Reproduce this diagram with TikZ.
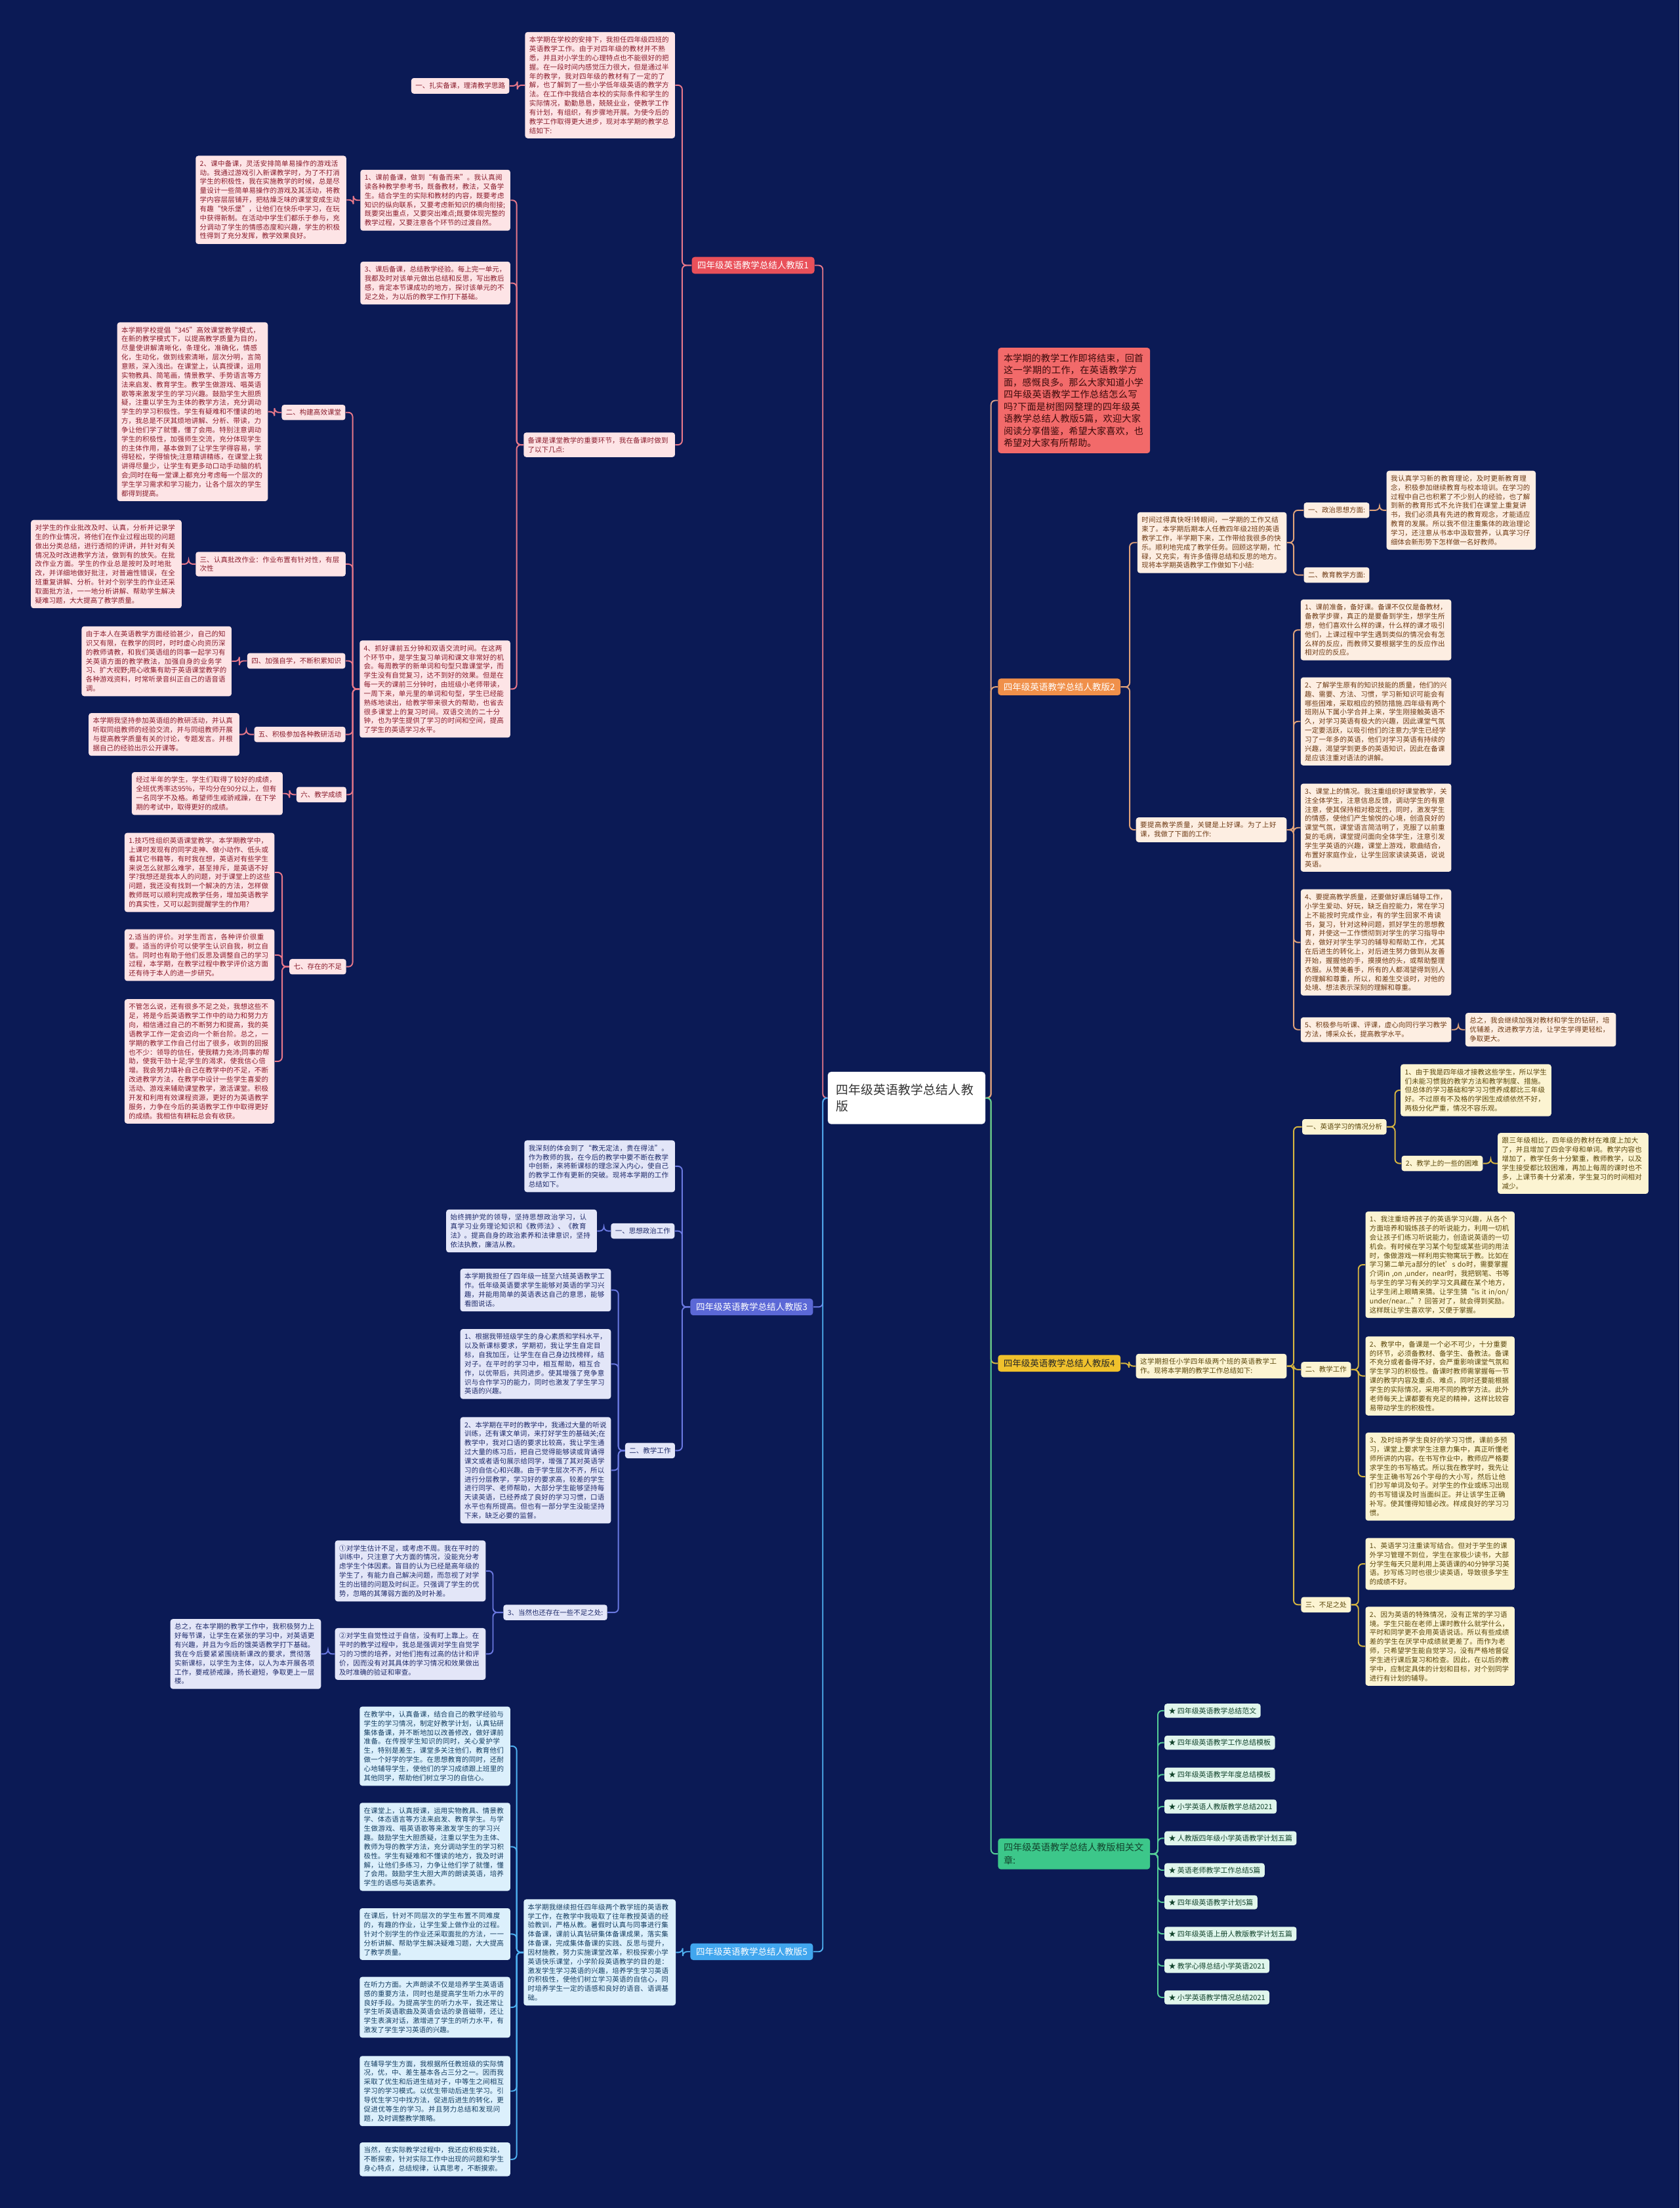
\documentclass[tikz,border=0pt]{standalone}
\usepackage{fontspec}
\setmainfont{Noto Sans CJK SC}
\XeTeXlinebreaklocale "zh"
\XeTeXlinebreakskip=0pt plus 0.5pt minus 0.12pt
\definecolor{bg}{HTML}{0B1A55}
\definecolor{aline}{HTML}{E8788A}\definecolor{afill}{HTML}{FDE4E6}\definecolor{atext}{HTML}{8A1C2C}\definecolor{abr}{HTML}{E9505A}
\definecolor{rfill}{HTML}{F26A6A}\definecolor{rtext}{HTML}{3A0A0A}\definecolor{rline}{HTML}{D9A08A}
\definecolor{bline}{HTML}{E0A27A}\definecolor{bfill}{HTML}{FDEEE2}\definecolor{btext}{HTML}{6E3A14}\definecolor{bbr}{HTML}{F0904A}
\definecolor{cline}{HTML}{6A78E0}\definecolor{cfill}{HTML}{E3E6F8}\definecolor{ctext}{HTML}{1E2A6A}\definecolor{cbr}{HTML}{5B68D6}
\definecolor{dline}{HTML}{D6B540}\definecolor{dfill}{HTML}{FCF4D2}\definecolor{dtext}{HTML}{5A460A}\definecolor{dbr}{HTML}{F0C12C}
\definecolor{eline}{HTML}{4FB2F2}\definecolor{efill}{HTML}{DCF0FC}\definecolor{etext}{HTML}{153E62}\definecolor{ebr}{HTML}{41A6EE}
\definecolor{fline}{HTML}{55CF98}\definecolor{ffill}{HTML}{E0F6EC}\definecolor{ftext}{HTML}{12432C}\definecolor{fbr}{HTML}{3CC78A}
\newcommand\fs{\fontsize{4.9pt}{6.45pt}\selectfont}
\newcommand\lc[4]{\draw[#1] (#2.west) -| (#4,0 |- #3.east) -- (#3.east);}
\newcommand\rc[4]{\draw[#1] (#2.east) -| (#4,0 |- #3.west) -- (#3.west);}
\tikzset{
  bx/.style={rounded corners=1.8pt, inner xsep=3pt, inner ysep=3.2pt, align=left, font=\fs},
  pa/.style={bx, fill=afill, text=atext},
  pb/.style={bx, fill=bfill, text=btext},
  pc/.style={bx, fill=cfill, text=ctext},
  pd/.style={bx, fill=dfill, text=dtext},
  pe/.style={bx, fill=efill, text=etext},
  pf/.style={bx, fill=ffill, text=ftext, inner ysep=2.6pt, font=\fontsize{5.1pt}{6pt}\selectfont},
  br/.style={rounded corners=2pt, inner xsep=4pt, inner ysep=3pt, font=\fontsize{6.3pt}{7.5pt}\selectfont},
  ln/.style={line width=0.9pt, rounded corners=3pt},
  la/.style={ln, aline}, lb/.style={ln, bline}, lcc/.style={ln, cline},
  ld/.style={ln, dline}, le/.style={ln, eline}, lf/.style={ln, fline}, lr/.style={ln, rline},
}
\begin{document}
\begin{tikzpicture}[x=1pt,y=-1pt]
\useasboundingbox (0,0) rectangle (1193,1568.6);
\fill[bg] (0,0) rectangle (1193,1568.6);

% centre
\node[rounded corners=2.5pt, fill=white, text=black!80, inner xsep=6pt, inner ysep=8.5pt, align=left, text width=100pt, font=\fontsize{8.8pt}{12pt}\selectfont] (c0) at (644,780) {四年级英语教学总结人教版};

% ---------------- branch 1 ----------------
\node[br, fill=abr, text=white] (b1) at (535,188.5) {四年级英语教学总结人教版1};
\node[pa, text width=100.5pt] (t1) at (426.25,60.5) {本学期在学校的安排下，我担任四年级四班的英语教学工作。由于对四年级的教材并不熟悉，并且对小学生的心理特点也不能很好的把握。在一段时间内感觉压力很大，但是通过半年的教学，我对四年级的教材有了一定的了解，也了解到了一些小学低年级英语的教学方法。在工作中我结合本校的实际条件和学生的实际情况，勤勤恳恳，兢兢业业，使教学工作有计划，有组织，有步骤地开展。为使今后的教学工作取得更大进步，现对本学期的教学总结如下:};
\node[pa] (t1a) at (327,61) {一、扎实备课，理清教学思路};
\node[pa, text width=101.5pt] (t1b) at (425.75,316) {备课是课堂教学的重要环节，我在备课时做到了以下几点:};
\node[pa, text width=100.5pt] (t1b1) at (309.25,142.25) {1、课前备课，做到“有备而来”。我认真阅读各种教学参考书，既备教材，教法，又备学生。结合学生的实际和教材的内容，既要考虑知识的纵向联系，又要考虑新知识的横向衔接;既要突出重点，又要突出难点;既要体现完整的教学过程，又要注意各个环节的过渡自然。};
\node[pa, text width=101pt] (t1b1a) at (192.5,142) {2、课中备课，灵活安排简单易操作的游戏活动。我通过游戏引入新课教学时，为了不打消学生的积极性，我在实施教学的时候，总是尽量设计一些简单易操作的游戏及其活动，将教学内容层层铺开，把枯燥乏味的课堂变成生动有趣“快乐堡”，让他们在快乐中学习，在玩中获得新制。在活动中学生们都乐于参与，充分调动了学生的情感态度和兴趣，学生的积极性得到了充分发挥，教学效果良好。};
\node[pa, text width=100.5pt] (t1b2) at (309.25,201.1) {3、课后备课，总结教学经验。每上完一单元，我都及时对该单元做出总结和反思，写出教后感，肯定本节课成功的地方，探讨该单元的不足之处，为以后的教学工作打下基础。};
\node[pa, text width=101pt] (t1b3) at (309,489.5) {4、抓好课前五分钟和双语交流时间。在这两个环节中，是学生复习单词和课文非常好的机会。每周教学的新单词和句型只靠课堂学，而学生没有自觉复习，达不到好的效果。但是在每一天的课前三分钟时，由班级小老师带读，一周下来，单元里的单词和句型，学生已经能熟练地读出，给教学带来很大的帮助，也省去很多课堂上的复习时间。双语交流的二十分钟，也为学生提供了学习的时间和空间，提高了学生的英语学习水平。};
\node[pa] (s2) at (222.75,293) {二、构建高效课堂};
\node[pa, text width=101pt] (s2c) at (136.75,292.5) {本学期学校提倡“345”高效课堂教学模式，在新的教学模式下，以提高教学质量为目的，尽量使讲解清晰化，条理化，准确化，情感化，生动化，做到线索清晰，层次分明，言简意赅，深入浅出。在课堂上，认真授课，运用实物教具、简笔画，情景教学、手势语言等方法来启发、教育学生。教学生做游戏、唱英语歌等来激发学生的学习兴趣。鼓励学生大胆质疑，注重以学生为主体的教学方法，充分调动学生的学习积极性。学生有疑难和不懂读的地方，我总是不厌其烦地讲解、分析、带读，力争让他们学了就懂，懂了会用。特别注意调动学生的积极性，加强师生交流，充分体现学生的主体作用，基本做到了让学生学得容易，学得轻松，学得愉快;注意精讲精练，在课堂上我讲得尽量少，让学生有更多动口动手动脑的机会;同时在每一堂课上都充分考虑每一个层次的学生学习需求和学习能力，让各个层次的学生都得到提高。};
\node[pa, text width=100.5pt] (s3) at (192.25,400.75) {三、认真批改作业：作业布置有针对性，有层次性};
\node[pa, text width=101pt] (s3c) at (75.5,400.75) {对学生的作业批改及时、认真，分析并记录学生的作业情况，将他们在作业过程出现的问题做出分类总结，进行透彻的评讲，并针对有关情况及时改进教学方法，做到有的放矢。在批改作业方面。学生的作业总是按时及时地批改，并详细地做好批注，对普遍性错误，在全班重复讲解、分析。针对个别学生的作业还采取面批方法，一一地分析讲解、帮助学生解决疑难习题，大大提高了教学质量。};
\node[pa] (s4) at (210.5,469.5) {四、加强自学，不断积累知识};
\node[pa, text width=100.5pt] (s4c) at (111.25,469.75) {由于本人在英语教学方面经验甚少，自己的知识又有限，在教学的同时，时时虚心向资历深的教师请教，和我们英语组的同事一起学习有关英语方面的教学教法，加强自身的业务学习、扩大视野;用心收集有助于英语课堂教学的各种游戏资料，时常听录音纠正自己的语音语调。};
\node[pa] (s5) at (213,521.75) {五、积极参加各种教研活动};
\node[pa, text width=101pt] (s5c) at (116.5,521.75) {本学期我坚持参加英语组的教研活动，并认真听取同组教师的经验交流，并与同组教师开展与提高教学质量有关的讨论，专题发言。并根据自己的经验出示公开课等。};
\node[pa] (s6) at (228.3,564.5) {六、教学成绩};
\node[pa, text width=101.2pt] (s6c) at (147.2,563.75) {经过半年的学生，学生们取得了较好的成绩，全班优秀率达95\%，平均分在90分以上，但有一名同学不及格。希望师生戒骄戒躁，在下学期的考试中，取得更好的成绩。};
\node[pa] (s7) at (225.75,686.75) {七、存在的不足};
\node[pa, text width=100.5pt] (s7a) at (141.75,619.8) {1.技巧性组织英语课堂教学。本学期教学中，上课时发现有的同学走神、做小动作、低头或看其它书籍等，有时我在想，英语对有些学生来说怎么就那么难学，甚至排斥，是英语不好学?我想还是我本人的问题，对于课堂上的这些问题，我还没有找到一个解决的方法，怎样做教师既可以顺利完成教学任务，增加英语教学的真实性，又可以起到提醒学生的作用?};
\node[pa, text width=100.5pt] (s7b) at (141.75,678.5) {2.适当的评价。对学生而言，各种评价很重要。适当的评价可以使学生认识自我，树立自信。同时也有助于他们反思及调整自己的学习过程，本学期，在教学过程中教学评价这方面还有待于本人的进一步研究。};
\node[pa, text width=100.5pt] (s7c) at (141.75,754) {不管怎么说，还有很多不足之处，我想这些不足，将是今后英语教学工作中的动力和努力方向，相信通过自己的不断努力和提高，我的英语教学工作一定会迈向一个新台阶。总之，一学期的教学工作自己付出了很多，收到的回报也不少：领导的信任，使我精力充沛;同事的帮助，使我干劲十足;学生的渴求，使我信心倍增。我会努力填补自己在教学中的不足，不断改进教学方法，在教学中设计一些学生喜爱的活动、游戏来辅助课堂教学，激活课堂。积极开发和利用有效课程资源，更好的为英语教学服务，力争在今后的英语教学工作中取得更好的成绩。我相信有耕耘总会有收获。};

\lc{la}{c0}{b1}{584.5}
\lc{la}{b1}{t1}{484.6}
\lc{la}{b1}{t1b}{484.6}
\lc{la}{t1}{t1a}{367.5}
\lc{la}{t1b}{t1b1}{367}
\lc{la}{t1b}{t1b2}{367}
\lc{la}{t1b}{t1b3}{367}
\lc{la}{t1b1}{t1b1a}{251}
\foreach \n in {s2,s3,s4,s5,s6,s7} {\lc{la}{t1b3}{\n}{250.5}}
\lc{la}{s2}{s2c}{195}
\lc{la}{s3}{s3c}{134}
\lc{la}{s4}{s4c}{170}
\lc{la}{s5}{s5c}{175}
\lc{la}{s6}{s6c}{205.7}
\foreach \n in {s7a,s7b,s7c} {\lc{la}{s7}{\n}{200.4}}

% ---------------- intro + branch 2 ----------------
\node[rounded corners=2pt, fill=rfill, text=rtext, inner xsep=4pt, inner ysep=4.3pt, align=left, text width=100pt, font=\fontsize{6.6pt}{8.6pt}\selectfont] (red) at (763,284.5) {本学期的教学工作即将结束，回首这一学期的工作，在英语教学方面，感慨良多。那么大家知道小学四年级英语教学工作总结怎么写吗?下面是树图网整理的四年级英语教学总结人教版5篇，欢迎大家阅读分享借鉴，希望大家喜欢，也希望对大家有所帮助。};
\node[br, fill=bbr, text=white] (b2) at (752.5,488) {四年级英语教学总结人教版2};
\node[pb, text width=100pt] (tj) at (861,385.5) {时间过得真快呀!转眼间，一学期的工作又结束了。本学期后期本人任教四年级2班的英语教学工作，半学期下来，工作带给我很多的快乐。顺利地完成了教学任务。回顾这学期，忙碌，又充实，有许多值得总结和反思的地方。现将本学期英语教学工作做如下小结:};
\node[pb] (zz) at (949.5,362.5) {一、政治思想方面:};
\node[pb, text width=100pt] (zzc) at (1038,362.5) {我认真学习新的教育理论，及时更新教育理念，积极参加继续教育与校本培训。在学习的过程中自己也积累了不少别人的经验，也了解到新的教育形式不允许我们在课堂上重复讲书，我们必须具有先进的教育观念，才能适应教育的发展。所以我不但注重集体的政治理论学习，还注意从书本中汲取营养，认真学习仔细体会新形势下怎样做一名好教师。};
\node[pb] (jy) at (949.5,408.5) {二、教育教学方面:};
\node[pb, text width=101pt] (yt) at (860.5,589.5) {要提高教学质量，关键是上好课。为了上好课，我做了下面的工作:};
\node[pb, text width=101pt] (o1) at (977.5,447.5) {1、课前准备，备好课。备课不仅仅是备教材，备教学步骤，真正的是要备到学生，想学生所想，他们喜欢什么样的课，什么样的课才吸引他们，上课过程中学生遇到类似的情况会有怎么样的反应，而教师又要根据学生的反应作出相对应的反应。};
\node[pb, text width=101pt] (o2) at (977.5,512.5) {2、了解学生原有的知识技能的质量，他们的兴趣、需要、方法、习惯，学习新知识可能会有哪些困难，采取相应的预防措施.四年级有两个班刚从下属小学合并上来，学生刚接触英语不久，对学习英语有极大的兴趣，因此课堂气氛一定要活跃，以吸引他们的注意力;学生已经学习了一年多的英语，他们对学习英语有持续的兴趣，渴望学到更多的英语知识，因此在备课是应该注重对语法的讲解。};
\node[pb, text width=101pt] (o3) at (977.5,588) {3、课堂上的情况。我注重组织好课堂教学，关注全体学生，注意信息反馈，调动学生的有意注意，使其保持相对稳定性，同时，激发学生的情感，使他们产生愉悦的心境，创造良好的课堂气氛，课堂语言简洁明了，克服了以前重复的毛病，课堂提问面向全体学生，注意引发学生学英语的兴趣，课堂上游戏，歌曲结合，布置好家庭作业，让学生回家读读英语，说说英语。};
\node[pb, text width=101pt] (o4) at (977.5,669.5) {4、要提高教学质量，还要做好课后辅导工作，小学生爱动、好玩，缺乏自控能力，常在学习上不能按时完成作业，有的学生回家不肯读书，复习，针对这种问题，抓好学生的思想教育，并使这一工作惯彻到对学生的学习指导中去，做好对学生学习的辅导和帮助工作，尤其在后进生的转化上，对后进生努力做到从友善开始，握握他的手，摸摸他的头，或帮助整理衣服。从赞美着手，所有的人都渴望得到别人的理解和尊重，所以，和差生交谈时，对他的处境、想法表示深刻的理解和尊重。};
\node[pb, text width=101pt] (o5) at (977.5,731.5) {5、积极参与听课、评课，虚心向同行学习教学方法，博采众长，提高教学水平。};
\node[pb, text width=101pt] (oz) at (1094.5,731.5) {总之，我会继续加强对教材和学生的钻研，培优辅差，改进教学方法，让学生学得更轻松，争取更大。};

\rc{lr}{c0}{red}{704}
\rc{lb}{c0}{b2}{704}
\rc{lb}{b2}{tj}{802.5}
\rc{lb}{b2}{yt}{802.5}
\rc{lb}{tj}{zz}{919}
\rc{lb}{tj}{jy}{919}
\rc{lb}{zz}{zzc}{980}
\foreach \n in {o1,o2,o3,o4,o5} {\rc{lb}{yt}{\n}{919}}
\rc{lb}{o5}{oz}{1036}

% ---------------- branch 3 ----------------
\node[br, fill=cbr, text=white] (b3) at (534,928.5) {四年级英语教学总结人教版3};
\node[pc, text width=101pt] (sk) at (426,828.5) {我深刻的体会到了“教无定法，贵在得法”。作为教师的我，在今后的教学中要不断在教学中创新，来将新课标的理念深入内心，使自己的教学工作有更新的突破。现将本学期的工作总结如下。};
\node[pc] (sx) at (456.6,874.5) {一、思想政治工作};
\node[pc, text width=101pt] (sxc) at (370.5,874.5) {始终拥护党的领导，坚持思想政治学习，认真学习业务理论知识和《教师法》、《教育法》。提高自身的政治素养和法律意识，坚持依法执教，廉洁从教。};
\node[pc] (jx) at (461.8,1030.5) {二、教学工作};
\node[pc, text width=101pt] (j0) at (380.5,916.5) {本学期我担任了四年级一班至六班英语教学工作。低年级英语要求学生能够对英语的学习兴趣，并能用简单的英语表达自己的意思，能够看图说话。};
\node[pc, text width=101pt] (j1) at (380.5,969) {1、根据我带班级学生的身心素质和学科水平，以及新课标要求，学期初，我让学生自定目标，自我加压，让学生在自己身边找榜样，结对子。在平时的学习中，相互帮助，相互合作，以优带后，共同进步。使其增强了竞争意识与合作学习的能力，同时也激发了学生学习英语的兴趣。};
\node[pc, text width=101pt] (j2) at (380.5,1044.5) {2、本学期在平时的教学中，我通过大量的听说训练，还有课文单词，来打好学生的基础关;在教学中，我对口语的要求比较高，我让学生通过大量的练习后，把自己觉得能够读或背诵得课文或者语句展示给同学，增强了其对英语学习的自信心和兴趣。由于学生层次不齐，所以进行分层教学，学习好的要求高，较差的学生进行同学、老师帮助，大部分学生能够坚持每天读英语，已经养成了良好的学习习惯，口语水平也有所提高。但也有一部分学生没能坚持下来，缺乏必要的监督。};
\node[pc] (j3) at (394.5,1145.5) {3、当然也还存在一些不足之处:};
\node[pc, text width=101pt] (ja) at (291.5,1116) {①对学生估计不足，或考虑不周。我在平时的训练中，只注意了大方面的情况，没能充分考虑学生个体因素。盲目的认为已经是高年级的学生了，有能力自己解决问题，而忽视了对学生的出错的问题及时纠正。只强调了学生的优势，忽略的其薄弱方面的及时补差。};
\node[pc, text width=101pt] (jb) at (291.5,1175) {②对学生自觉性过于自信，没有盯上靠上。在平时的教学过程中，我总是强调对学生自觉学习的习惯的培养，对他们抱有过高的估计和评价，因而没有对其具体的学习情况和效果做出及时准确的验证和审查。};
\node[pc, text width=101pt] (jz) at (174.5,1175) {总之，在本学期的教学工作中，我积极努力上好每节课，让学生在紧张的学习中，对英语更有兴趣，并且为今后的饿英语教学打下基础。我在今后要紧紧围绕新课改的要求，贯彻落实新课标，以学生为主体，以人为本开展各项工作，要戒骄戒躁，扬长避短，争取更上一层楼。};

\lc{lcc}{c0}{b3}{584.5}
\foreach \n in {sk,sx,jx} {\lc{lcc}{b3}{\n}{484.6}}
\lc{lcc}{sx}{sxc}{429}
\foreach \n in {j0,j1,j2,j3} {\lc{lcc}{jx}{\n}{439.3}}
\lc{lcc}{j3}{ja}{350.2}
\lc{lcc}{j3}{jb}{350.2}
\lc{lcc}{jb}{jz}{233}

% ---------------- branch 4 ----------------
\node[br, fill=dbr, text=black!85] (b4) at (752.5,968.5) {四年级英语教学总结人教版4};
\node[pd, text width=101pt] (zx) at (860.5,970.5) {这学期担任小学四年级两个班的英语教学工作。现将本学期的教学工作总结如下:};
\node[pd] (g1) at (955,800.5) {一、英语学习的情况分析};
\node[pd, text width=101pt] (g1a) at (1048.5,774.5) {1、由于我是四年级才接教这些学生，所以学生们未能习惯我的教学方法和教学制度、措施。但总体的学习基础和学习习惯养成都比三年级好。不过原有不及格的学困生成绩依然不好，两极分化严重，情况不容乐观。};
\node[pd] (g1b) at (1024.5,826.5) {2、教学上的一些的困难};
\node[pd, text width=101pt] (g1bc) at (1117.5,826.5) {跟三年级相比，四年级的教材在难度上加大了，并且增加了四会字母和单词。教学内容也增加了，教学任务十分繁重，教师教学，以及学生接受都比较困难，再加上每周的课时也不多，上课节奏十分紧凑，学生复习的时间相对减少。};
\node[pd] (g2) at (942,973) {二、教学工作};
\node[pd, text width=100pt] (g2a) at (1023,898.5) {1、我注重培养孩子的英语学习兴趣，从各个方面培养和锻炼孩子的听说能力，利用一切机会让孩子们练习听说能力，创造说英语的一切机会。有时候在学习某个句型或某些词的用法时，像做游戏一样利用实物寓玩于教。比如在学习第二单元a部分的let’s do时，需要掌握介词in ,on ,under，near时，我把钢笔、书等与学生的学习有关的学习文具藏在某个地方，让学生闭上眼睛来猜。让学生猜“is it in/on/under/near...”? 回答对了，就会得到奖励。这样既让学生喜欢学，又便于掌握。};
\node[pd, text width=100pt] (g2b) at (1023,977.5) {2、教学中，备课是一个必不可少，十分重要的环节，必须备教材、备学生、备教法。备课不充分或者备得不好，会严重影响课堂气氛和学生学习的积极性。备课时教师需掌握每一节课的教学内容及重点、难点，同时还要能根据学生的实际情况，采用不同的教学方法。此外老师每天上课都要有充足的精神，这样比较容易带动学生的积极性。};
\node[pd, text width=100pt] (g2c) at (1023,1049) {3、及时培养学生良好的学习习惯，课前多预习，课堂上要求学生注意力集中，真正听懂老师所讲的内容。在书写作业中，教师应严格要求学生的书写格式。所以我在教学时，我先让学生正确书写26个字母的大小写，然后让他们抄写单词及句子。对学生的作业或练习出现的书写错误及时当面纠正。并让该学生正确补写。使其懂得知错必改。样成良好的学习习惯。};
\node[pd] (g3) at (942,1140) {三、不足之处};
\node[pd, text width=100pt] (g3a) at (1023,1111) {1、英语学习注重读写结合。但对于学生的课外学习管理不到位，学生在家极少读书，大部分学生每天只是利用上英语课的40分钟学习英语。抄写练习时也很少读英语，导致很多学生的成绩不好。};
\node[pd, text width=100pt] (g3b) at (1023,1169.5) {2、因为英语的特殊情况，没有正常的学习语境。学生只能在老师上课时教什么就学什么，平时和同学更不会用英语说话。所以有些成绩差的学生在厌学中成绩就更差了。而作为老师，只希望学生能自觉学习，没有严格地督促学生进行课后复习和检查。因此，在以后的教学中，应制定具体的计划和目标，对个别同学进行有计划的辅导。};

\rc{ld}{c0}{b4}{704}
\rc{ld}{b4}{zx}{802}
\foreach \n in {g1,g2,g3} {\rc{ld}{zx}{\n}{919}}
\rc{ld}{g1}{g1a}{991}
\rc{ld}{g1}{g1b}{991}
\rc{ld}{g1b}{g1bc}{1059}
\foreach \n in {g2a,g2b,g2c} {\rc{ld}{g2}{\n}{965}}
\rc{ld}{g3}{g3a}{965}
\rc{ld}{g3}{g3b}{965}

% ---------------- branch 5 ----------------
\node[br, fill=ebr, text=white] (b5) at (534,1386.5) {四年级英语教学总结人教版5};
\node[pe, text width=102pt] (bj) at (426,1387) {本学期我继续担任四年级两个教学班的英语教学工作，在教学中我吸取了往年教授英语的经验教训，严格从教。暑假时认真与同事进行集体备课，课前认真钻研集体备课成果，落实集体备课，完成集体备课的实践、反思与提升，因材施教，努力实施课堂改革，积极探索小学英语快乐课堂，小学阶段英语教学的目的是：激发学生学习英语的兴趣，培养学生学习英语的积极性，使他们树立学习英语的自信心，同时培养学生一定的语感和良好的语音、语调基础。};
\node[pe, text width=101pt] (e1) at (309,1240.5) {在教学中，认真备课，结合自己的教学经验与学生的学习情况，制定好教学计划，认真钻研集体备课，并不断地加以改善修改，做好课前准备。在传授学生知识的同时，关心爱护学生，特别是差生，课堂多关注他们，教育他们做一个好学的学生。在思想教育的同时，还耐心地辅导学生，使他们的学习成绩跟上班里的其他同学，帮助他们树立学习的自信心。};
\node[pe, text width=101pt] (e2) at (309,1312) {在课堂上，认真授课，运用实物教具、情景教学、体态语言等方法来启发、教育学生。与学生做游戏、唱英语歌等来激发学生的学习兴趣。鼓励学生大胆质疑，注重以学生为主体、教师为导的教学方法，充分调动学生的学习积极性。学生有疑难和不懂读的地方，我及时讲解，让他们多练习，力争让他们学了就懂，懂了会用。鼓励学生大胆大声的朗读英语，培养学生的语感与英语素养。};
\node[pe, text width=101pt] (e3) at (309,1374) {在课后，针对不同层次的学生布置不同难度的，有趣的作业，让学生爱上做作业的过程。针对个别学生的作业还采取面批的方法，一一分析讲解、帮助学生解决疑难习题，大大提高了教学质量。};
\node[pe, text width=101pt] (e4) at (309,1426) {在听力方面。大声朗读不仅是培养学生英语语感的重要方法，同时也是提高学生听力水平的良好手段。为提高学生的听力水平，我还常让学生听英语歌曲及英语会话的录音磁带，还让学生表演对话，激增进了学生的听力水平，有激发了学生学习英语的兴趣。};
\node[pe, text width=101pt] (e5) at (309,1485.5) {在辅导学生方面，我根据所任教班级的实际情况，优，中、差生基本各占三分之一。因而我采取了优生和后进生结对子，中等生之间相互学习的学习模式。以优生带动后进生学习。引导优生学习中找方法，促进后进生的转化，更促进优等生的学习。并且努力总结和发现问题，及时调整教学策略。};
\node[pe, text width=101pt] (e6) at (309,1534) {当然，在实际教学过程中，我还应积极实践，不断探索，针对实际工作中出现的问题和学生身心特点，总结规律，认真思考，不断摸索。};

\lc{le}{c0}{b5}{584.5}
\lc{le}{b5}{bj}{485}
\foreach \n in {e1,e2,e3,e4,e5,e6} {\lc{le}{bj}{\n}{367}}

% ---------------- related ----------------
\node[rounded corners=2pt, fill=fbr, text=ftext, inner xsep=4pt, inner ysep=3.4pt, align=left, text width=100pt, font=\fontsize{6.6pt}{9pt}\selectfont] (rel) at (763,1317) {四年级英语教学总结人教版相关文章:};
\foreach \i/\yy/\t in {
 r1/1215.3/四年级英语教学总结范文,
 r2/1238/四年级英语教学工作总结模板,
 r3/1260.7/四年级英语教学年度总结模板,
 r4/1283.4/小学英语人教版教学总结2021,
 r5/1305.9/人教版四年级小学英语教学计划五篇,
 r6/1328.6/英语老师教学工作总结5篇,
 r7/1351.4/四年级英语教学计划5篇,
 r8/1373.8/四年级英语上册人教版教学计划五篇,
 r9/1396.6/教学心得总结小学英语2021,
 r10/1419/小学英语教学情况总结2021} {
  \node[pf, anchor=west] (\i) at (827,\yy) {★ \t};
  \rc{lf}{rel}{\i}{822.5}
}
\rc{lf}{c0}{rel}{704}
\end{tikzpicture}
\end{document}
